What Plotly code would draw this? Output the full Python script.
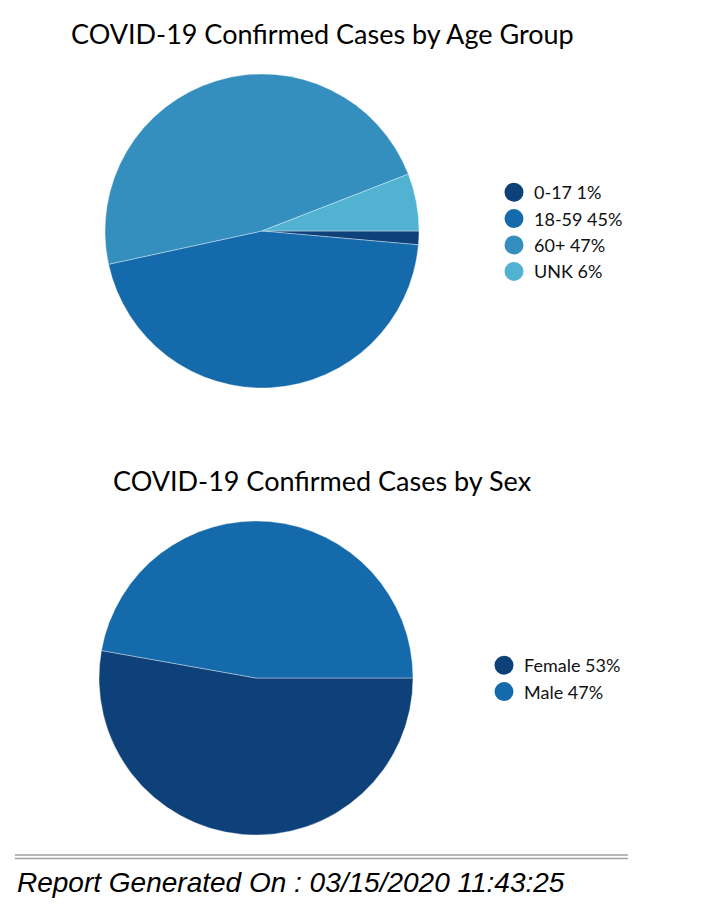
import plotly.graph_objects as go

age_groups = ["0-17", "18-59", "60+", "UNK"]
age_values = [1.4, 45.2, 47.5, 5.9]
age_pct_labels = ["1%", "45%", "47%", "6%"]
age_colors = ["#0e4179", "#146aab", "#348fbf", "#51b3d1"]

sex_groups = ["Female", "Male"]
sex_values = [52.8, 47.2]
sex_pct_labels = ["53%", "47%"]
sex_colors = ["#0e4179", "#146aab"]

title_age = "COVID-19 Confirmed Cases by Age Group"
title_sex = "COVID-19 Confirmed Cases by Sex"
footer = "Report Generated On : 03/15/2020 11:43:25"

W, H = 724, 908
def px_x(x): return x / W
def px_y(y): return 1 - y / H

fig = go.Figure()

fig.add_trace(go.Pie(
    labels=age_groups, values=age_values, sort=False, direction="clockwise",
    rotation=90, textinfo="none", hoverinfo="label+percent", showlegend=False,
    marker=dict(colors=age_colors, line=dict(color="rgba(255,255,255,0.6)", width=0.6)),
    domain=dict(x=[px_x(105), px_x(419)], y=[px_y(388), px_y(74)]),
))
fig.add_trace(go.Pie(
    labels=sex_groups, values=sex_values, sort=False, direction="clockwise",
    rotation=90, textinfo="none", hoverinfo="label+percent", showlegend=False,
    marker=dict(colors=sex_colors, line=dict(color="rgba(255,255,255,0.6)", width=0.6)),
    domain=dict(x=[px_x(99), px_x(413)], y=[px_y(835), px_y(521)]),
))

for i, (g, p) in enumerate(zip(age_groups, age_pct_labels)):
    fig.add_trace(go.Scatter(
        x=[None], y=[None], mode="markers", name=f"{g} {p}",
        marker=dict(symbol="circle", size=16, color=age_colors[i],
                    line=dict(color=age_colors[i], width=3)),
        legend="legend", legendgroup=f"a{i}", hoverinfo="skip",
    ))
for i, (g, p) in enumerate(zip(sex_groups, sex_pct_labels)):
    fig.add_trace(go.Scatter(
        x=[None], y=[None], mode="markers", name=f"{g} {p}",
        marker=dict(symbol="circle", size=16, color=sex_colors[i],
                    line=dict(color=sex_colors[i], width=3)),
        legend="legend2", legendgroup=f"s{i}", hoverinfo="skip",
    ))

legend_font = dict(family="Lato, Open Sans, sans-serif", size=18, color="#111111")
fig.update_layout(
    width=W, height=H, margin=dict(l=0, r=0, t=0, b=0),
    paper_bgcolor="white", plot_bgcolor="white",
    xaxis=dict(visible=False), yaxis=dict(visible=False),
    legend=dict(x=px_x(494), y=px_y(174), xanchor="left", yanchor="top",
                font=legend_font, itemsizing="trace", tracegroupgap=0,
                bgcolor="rgba(0,0,0,0)"),
    legend2=dict(x=px_x(484), y=px_y(647), xanchor="left", yanchor="top",
                 font=legend_font, itemsizing="trace", tracegroupgap=0,
                 bgcolor="rgba(0,0,0,0)"),
    annotations=[
        dict(text=title_age, x=px_x(322), y=px_y(33), xref="paper", yref="paper",
             showarrow=False, xanchor="center", yanchor="middle",
             font=dict(family="Lato, Open Sans, sans-serif", size=27, color="black")),
        dict(text=title_sex, x=px_x(322), y=px_y(481), xref="paper", yref="paper",
             showarrow=False, xanchor="center", yanchor="middle",
             font=dict(family="Lato, Open Sans, sans-serif", size=27, color="black")),
        dict(text=f"<i>{footer}</i>", x=px_x(15), y=px_y(882), xref="paper", yref="paper",
             showarrow=False, xanchor="left", yanchor="middle",
             font=dict(family="Liberation Sans, Arial, sans-serif", size=28, color="black")),
    ],
    shapes=[
        dict(type="line", xref="paper", yref="paper", x0=px_x(15), x1=px_x(628),
             y0=px_y(855), y1=px_y(855), line=dict(color="#a0a0a0", width=1.5)),
        dict(type="line", xref="paper", yref="paper", x0=px_x(15), x1=px_x(628),
             y0=px_y(858.5), y1=px_y(858.5), line=dict(color="#a0a0a0", width=1.5)),
    ],
)

fig.write_html("out.html", config={"displayModeBar": False},
               post_script="document.body.style.margin='0';")
